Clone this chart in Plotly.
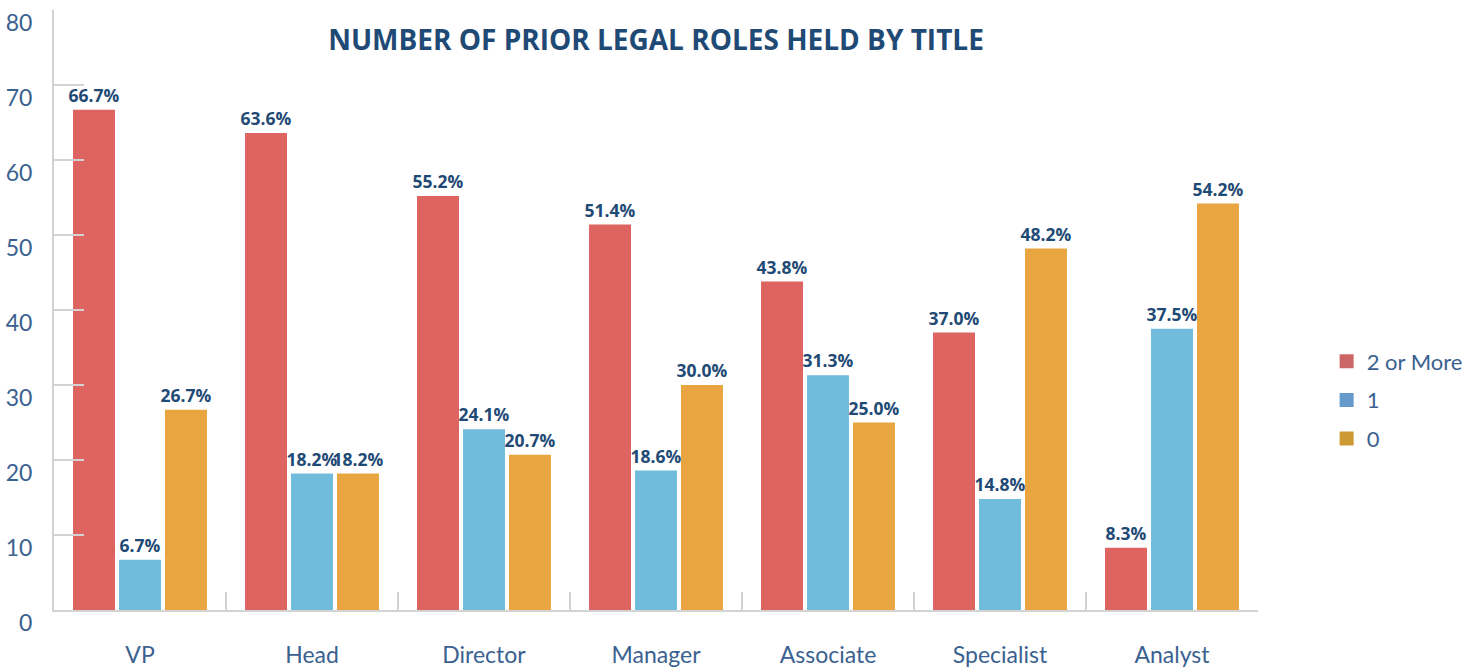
import plotly.graph_objects as go

categories = ["VP", "Head", "Director", "Manager", "Associate", "Specialist", "Analyst"]
two_or_more = [66.7, 63.6, 55.2, 51.4, 43.8, 37.0, 8.3]
one_role = [6.7, 18.2, 24.1, 18.6, 31.3, 14.8, 37.5]
zero_roles = [26.7, 18.2, 20.7, 30.0, 25.0, 48.2, 54.2]
series_names = ["2 or More", "1", "0"]
y_ticks = [0, 10, 20, 30, 40, 50, 60, 70, 80]

bar_colors = ["#dd6461", "#71bcdc", "#e9a640"]
legend_colors = ["#cc6666", "#6699cc", "#cc9933"]
label_color = "#1f4a75"
axis_text_color = "#3a6190"
font_family = "Lato, 'Open Sans', sans-serif"
bold_family = "'Open Sans', Lato, sans-serif"

W, H = 1466, 668

fig = go.Figure()
for name, vals, col in zip(series_names, [two_or_more, one_role, zero_roles], bar_colors):
    fig.add_trace(go.Bar(
        x=categories, y=vals, name=name, marker=dict(color=col, line=dict(width=0)),
        text=[f"{v:.1f}%" for v in vals], textposition="outside",
        textfont=dict(family=bold_family, size=17.5, color=label_color, weight="bold"),
        constraintext="none", cliponaxis=False, showlegend=False,
    ))
for i, (name, col) in enumerate(zip(series_names, legend_colors)):
    fig.add_trace(go.Scatter(
        x=[None], y=[None], mode="markers", name=name, legendgroup=f"g{i}",
        marker=dict(symbol="square", size=14, color=col), showlegend=True,
    ))

fig.update_layout(
    width=W, height=H,
    margin=dict(l=54, r=208, t=10, b=58, autoexpand=False),
    paper_bgcolor="white", plot_bgcolor="white",
    barmode="group", bargap=0.198, bargroupgap=0.087,
    font=dict(family=font_family, color=axis_text_color),
    title=dict(
        text="<b>NUMBER OF PRIOR LEGAL ROLES HELD BY TITLE</b>",
        font=dict(family=bold_family, size=28, color=label_color),
        x=0.5, xref="paper", xanchor="center",
        y=1 - 40 / H, yref="container", yanchor="middle",
    ),
    legend=dict(
        x=1.057, xanchor="left", y=0.35, yanchor="middle",
        font=dict(family=font_family, size=22, color=axis_text_color),
        traceorder="grouped", tracegroupgap=7, itemwidth=30,
        bgcolor="rgba(0,0,0,0)",
    ),
    xaxis=dict(
        type="category", tickson="boundaries", ticks="inside", ticklen=18,
        tickwidth=2, tickcolor="#d3d3d3", showline=True, linecolor="#d3d3d3",
        linewidth=2, showgrid=False, zeroline=False, automargin=False,
        tickfont=dict(family=font_family, size=23, color=axis_text_color),
        ticklabelstandoff=23,
    ),
    yaxis=dict(
        range=[0, 80], tickvals=y_ticks, ticks="inside", ticklen=30, tickwidth=2,
        tickcolor="#d3d3d3", showline=True, linecolor="#d3d3d3", linewidth=2,
        showgrid=False, zeroline=False, automargin=False,
        tickfont=dict(family=font_family, size=23, color=axis_text_color),
        ticklabelshift=13, ticklabelstandoff=15,
    ),
)

fig.write_html("out.html", config={"displayModeBar": False},
               post_script="document.body.style.margin='0px';")
